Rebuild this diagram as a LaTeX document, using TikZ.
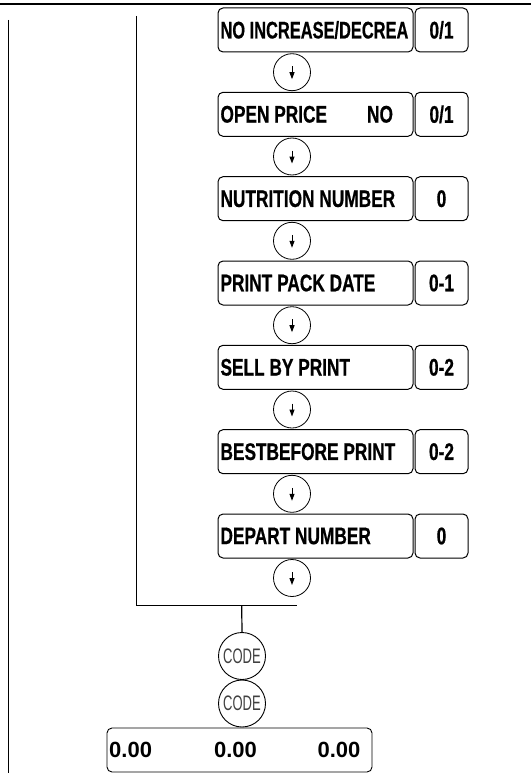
\documentclass[tikz,border=0pt]{standalone}
\usepackage{fontspec}
\setmainfont{Liberation Sans}
\newfontfamily\narrowfont{Liberation Sans}[FakeStretch=0.72,FakeBold=0.6]
\newfontfamily\codefont{Liberation Sans}[FakeStretch=0.62]
\usetikzlibrary{arrows.meta,calc}
\newcommand{\lbtext}[1]{\makebox[190pt][l]{#1}}
\begin{document}
\begin{tikzpicture}[x=1pt,y=-1pt,
  labelbox/.style={draw,line width=1pt,rounded corners=5pt,minimum width=195pt,minimum height=44pt,
    inner xsep=2.5pt,inner ysep=0pt,font=\narrowfont\bfseries\fontsize{24}{24}\selectfont},
  valbox/.style={draw,line width=1pt,rounded corners=5pt,minimum width=53pt,minimum height=44pt,
    inner sep=0pt,font=\narrowfont\bfseries\fontsize{24}{24}\selectfont},
  stepcirc/.style={draw,line width=0.8pt,circle,minimum size=37pt,inner sep=0pt},
  codecirc/.style={draw,line width=0.9pt,circle,minimum size=47pt,inner sep=0pt,
    font=\codefont\fontsize{21}{21}\selectfont,text=black!75},
  sumbox/.style={draw,line width=0.9pt,rounded corners=5pt,minimum width=265pt,minimum height=44pt,inner sep=0pt},
  numtxt/.style={font=\bfseries\fontsize{22}{22}\selectfont,inner sep=0pt},
  arr/.style={line width=1pt,-{Triangle[length=7pt,width=5pt]}},
  rule/.style={line width=1.2pt}]
\useasboundingbox (0,0) rectangle (531,773);
\draw[line width=2pt] (0,4) -- (531,4);
% vertical guide lines
\coordinate (l1t) at (8.7,20);
\coordinate (l1b) at (8.7,773);
\coordinate (l2t) at (136.5,16);
\coordinate (l2b) at (136.5,605.5);
\coordinate (hr) at (297,605.5);
\coordinate (hm) at (241.7,605.5);
\draw[rule] (l1t) -- (l1b);
\draw[rule] (l2t) -- (l2b) -- (hr);
% rows
\node[labelbox] (b1) at (315.5,30) {\lbtext{\scalebox{0.95}[1]{NO INCREASE/DECREA}}};
\node[valbox]   (v1) at (441.5,30) {0/1};
\node[stepcirc] (c1) at (292,72.2) {};
\node[labelbox] (b2) at (315.5,114.3) {\lbtext{OPEN PRICE\hspace{40pt}NO}};
\node[valbox]   (v2) at (441.5,114.3) {0/1};
\node[stepcirc] (c2) at (292,156.5) {};
\node[labelbox] (b3) at (315.5,198.7) {\lbtext{NUTRITION NUMBER}};
\node[valbox]   (v3) at (441.5,198.7) {0};
\node[stepcirc] (c3) at (292,240.8) {};
\node[labelbox] (b4) at (315.5,283) {\lbtext{PRINT PACK DATE}};
\node[valbox]   (v4) at (441.5,283) {0-1};
\node[stepcirc] (c4) at (292,325.2) {};
\node[labelbox] (b5) at (315.5,367.3) {\lbtext{SELL BY PRINT}};
\node[valbox]   (v5) at (441.5,367.3) {0-2};
\node[stepcirc] (c5) at (292,409.5) {};
\node[labelbox] (b6) at (315.5,451.7) {\lbtext{BESTBEFORE PRINT}};
\node[valbox]   (v6) at (441.5,451.7) {0-2};
\node[stepcirc] (c6) at (292,493.8) {};
\node[labelbox] (b7) at (315.5,536) {\lbtext{DEPART NUMBER}};
\node[valbox]   (v7) at (441.5,536) {0};
\node[stepcirc] (c7) at (292,578) {};
\foreach \c in {c1,c2,c3,c4,c5,c6,c7}{
  \draw[arr] ($(\c.center)+(0,-6)$) -- ($(\c.center)+(0,7)$);
}
% bottom
\node[codecirc] (k1) at (242,656) {CODE};
\node[codecirc] (k2) at (242,703.5) {CODE};
\draw[rule] (hm) -- (k1.north);
\node[sumbox] (s) at (239.5,750) {};
\node[numtxt,anchor=west] (n1) at (109,750) {0.00};
\node[numtxt] (n2) at (235.5,750) {0.00};
\node[numtxt] (n3) at (339,750) {0.00};
\end{tikzpicture}
\end{document}
